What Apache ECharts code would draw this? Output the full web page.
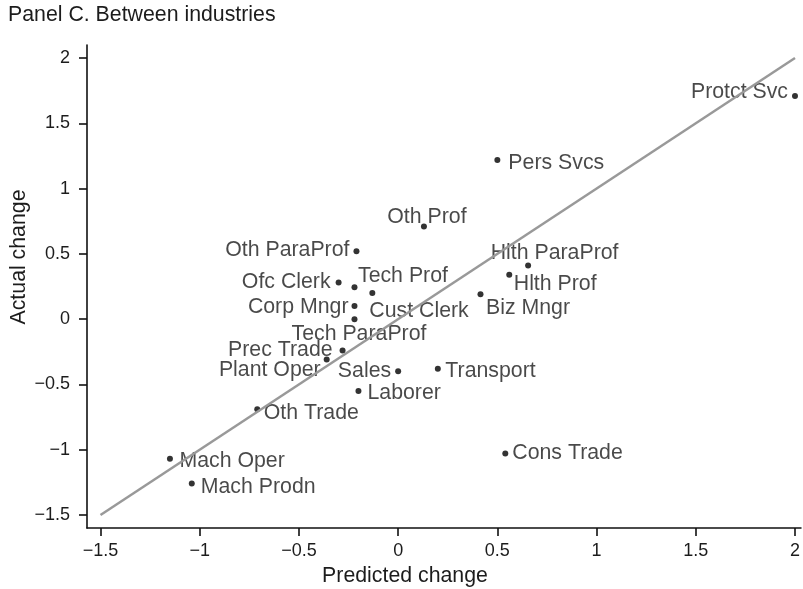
<!DOCTYPE html>
<html>
<head>
<meta charset="utf-8">
<title>Panel C. Between industries</title>
<script src="https://cdn.jsdelivr.net/npm/echarts@6/dist/echarts.min.js"></script>
<style>
    html, body { margin: 0; padding: 0; background: #fff; }
    #chart { width: 803px; height: 589px; }
</style>
</head>
<body>
<div id="chart"></div>
<script>
// 行业名称与变化值
const industries = [
    'Protct Svc', 'Pers Svcs', 'Oth Prof', 'Oth ParaProf', 'Ofc Clerk',
    'Tech Prof', 'Cust Clerk', 'Corp Mngr', 'Tech ParaProf', 'Prec Trade',
    'Plant Oper', 'Sales', 'Transport', 'Laborer', 'Oth Trade',
    'Mach Oper', 'Mach Prodn', 'Cons Trade', 'Hlth ParaProf', 'Hlth Prof', 'Biz Mngr'
];
const predictedChange = [
    2.00, 0.50, 0.13, -0.21, -0.30,
    -0.22, -0.13, -0.22, -0.22, -0.28,
    -0.36, 0.00, 0.20, -0.20, -0.71,
    -1.15, -1.04, 0.54, 0.655, 0.56, 0.415
];
const actualChange = [
    1.71, 1.22, 0.71, 0.52, 0.28,
    0.245, 0.20, 0.10, 0.00, -0.24,
    -0.31, -0.40, -0.38, -0.55, -0.69,
    -1.07, -1.26, -1.03, 0.41, 0.34, 0.19
];
// 45 度参考线端点
const diagonalEnds = [-1.5, 2];
const tickValues = [-1.5, -1, -0.5, 0, 0.5, 1, 1.5, 2];

// 标签相对点的位置 [dx, dy, 对齐]
const labelPlacement = {
    'Protct Svc': [-7, -4, 'right'],
    'Pers Svcs': [11, 3, 'left'],
    'Oth Prof': [3, -9, 'center'],
    'Oth ParaProf': [-7, -1, 'right'],
    'Ofc Clerk': [-8, 0, 'right'],
    'Tech Prof': [3.5, -11, 'left'],
    'Cust Clerk': [-3, 18, 'left'],
    'Corp Mngr': [-6, 1.5, 'right'],
    'Tech ParaProf': [4.5, 15, 'center'],
    'Prec Trade': [-10, -0.5, 'right'],
    'Plant Oper': [-6, 11, 'right'],
    'Sales': [-7, 0, 'right'],
    'Transport': [7.5, 2.5, 'left'],
    'Laborer': [9, 2, 'left'],
    'Oth Trade': [6.5, 4, 'left'],
    'Mach Oper': [9.5, 2, 'left'],
    'Mach Prodn': [9, 3.5, 'left'],
    'Cons Trade': [7, 0, 'left'],
    'Hlth ParaProf': [26.5, -12.5, 'center'],
    'Hlth Prof': [4.5, 9, 'left'],
    'Biz Mngr': [5.5, 14, 'left']
};

const FONT = 'Liberation Sans, Arial, Helvetica, sans-serif';
const TEXT_COLOR = '#1c1c1c';
const DOT_SIZE = 6;

function fmtTick(v) {
    return String(v).replace('-', '\u2212');
}

const chart = echarts.init(document.getElementById('chart'));

const scatterData = industries.map((name, i) => {
    const p = labelPlacement[name] || [6, 0, 'left'];
    return {
        name: name,
        value: [predictedChange[i], actualChange[i]],
        label: {
            position: [DOT_SIZE / 2 + p[0], DOT_SIZE / 2 + p[1]],
            align: p[2],
            verticalAlign: 'middle'
        }
    };
});

const axisCommon = {
    type: 'value',
    splitLine: { show: false },
    axisLine: { show: true, onZero: false, lineStyle: { color: '#111', width: 1.6 } },
    axisTick: { show: true, length: 8, customValues: tickValues, lineStyle: { color: '#111', width: 1.6 } },
    axisLabel: {
        customValues: tickValues,
        formatter: fmtTick,
        fontFamily: FONT,
        fontSize: 18,
        color: TEXT_COLOR
    }
};

const option = {
    animation: false,
    backgroundColor: '#fff',
    grid: { left: 87, top: 45, right: 0, bottom: 61, containLabel: false },
    xAxis: Object.assign({}, axisCommon, {
        min: -1.568,
        max: 2.03,
        axisLabel: Object.assign({}, axisCommon.axisLabel, { margin: 14 })
    }),
    yAxis: Object.assign({}, axisCommon, {
        min: -1.6,
        max: 2.1,
        axisLabel: Object.assign({}, axisCommon.axisLabel, { margin: 17 })
    }),
    graphic: [
        {
            type: 'text', left: 8, top: 5,
            style: { text: 'Panel C. Between industries', font: '21.3px ' + FONT, fill: TEXT_COLOR }
        },
        {
            type: 'text', x: 405, y: 576,
            style: { text: 'Predicted change', font: '21.3px ' + FONT, fill: TEXT_COLOR, align: 'center', verticalAlign: 'middle' }
        },
        {
            type: 'text', x: 19, y: 257, rotation: Math.PI / 2,
            style: { text: 'Actual change', font: '21.3px ' + FONT, fill: TEXT_COLOR, align: 'center', verticalAlign: 'middle' }
        }
    ],
    series: [
        {
            type: 'scatter',
            z: 2,
            symbol: 'circle',
            symbolSize: DOT_SIZE,
            itemStyle: { color: '#000' },
            label: {
                show: true,
                formatter: '{b}',
                fontFamily: FONT,
                fontSize: 21.3,
                color: TEXT_COLOR
            },
            data: scatterData
        },
        {
            type: 'line',
            z: 3,
            symbol: 'none',
            silent: true,
            lineStyle: { color: '#999', width: 2.5 },
            data: diagonalEnds.map(v => [v, v])
        }
    ]
};

chart.setOption(option);
</script>
</body>
</html>
